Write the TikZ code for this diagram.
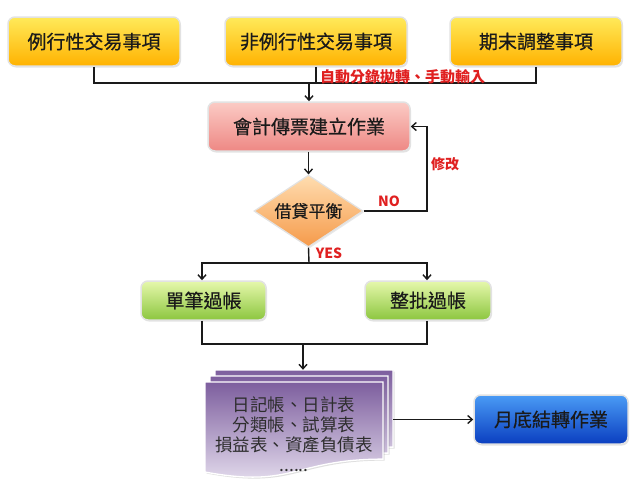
\documentclass[tikz,border=0pt]{standalone}
\usepackage{fontspec}
\setmainfont{Noto Sans CJK TC}
\newfontfamily\boxfont{Noto Sans CJK TC}[FakeBold=0.6]
\usetikzlibrary{shapes.geometric,arrows.meta,shadows,calc}
\definecolor{lnc}{HTML}{1A1A1A}
\definecolor{redl}{HTML}{E02020}
\definecolor{yelT}{HTML}{FFEA5A}
\definecolor{yelB}{HTML}{FFB200}
\definecolor{pinkT}{HTML}{FBCBC5}
\definecolor{pinkB}{HTML}{EE8884}
\definecolor{oraT}{HTML}{FFDDB0}
\definecolor{oraB}{HTML}{F59A4A}
\definecolor{grnT}{HTML}{E6F8AC}
\definecolor{grnB}{HTML}{8CC63F}
\definecolor{bluT}{HTML}{4A9BF5}
\definecolor{bluB}{HTML}{0A3EC0}
\definecolor{purT}{HTML}{7D5E9E}
\definecolor{purB}{HTML}{EAE4F2}
\definecolor{edge}{HTML}{E2E2E2}
\begin{document}
\begin{tikzpicture}[x=1pt,y=-1pt,
  box/.style={rectangle, rounded corners=7pt, draw=edge, line width=1.5pt,
    minimum height=49pt, inner sep=0pt, text=lnc,
    font=\boxfont\fontsize{19}{22}\selectfont,
    drop shadow={opacity=0.22, shadow xshift=1pt, shadow yshift=-1.5pt}},
  yelbox/.style={box, top color=yelT, bottom color=yelB},
  pinkbox/.style={box, top color=pinkT, bottom color=pinkB},
  grnbox/.style={box, minimum height=39pt, top color=grnT, bottom color=grnB},
  blubox/.style={box, top color=bluT, bottom color=bluB},
  decbox/.style={diamond, aspect=1.5, inner sep=0pt, minimum width=109pt,
    minimum height=72pt, draw=edge, line width=1.2pt, text=lnc,
    top color=oraT, bottom color=oraB, font=\boxfont\fontsize{17}{20}\selectfont,
    drop shadow={opacity=0.18, shadow xshift=1pt, shadow yshift=-1.5pt}},
  page/.style={draw=white, line width=1.3pt, top color=purT, bottom color=purB,
    drop shadow={opacity=0.25, shadow xshift=1.5pt, shadow yshift=-1.5pt}},
  conn/.style={draw=lnc, line width=1.4pt},
  arr/.style={conn, -{Straight Barb[length=4.5pt,width=8pt]}},
  lbl/.style={text=redl, font=\bfseries\fontsize{14}{16}\selectfont, inner sep=0pt},
]
\useasboundingbox[fill=white] (0,0) rectangle (640,488);

% top boxes
\node[yelbox, minimum width=172pt] (t1) at (94,41.5) {例行性交易事項};
\node[yelbox, minimum width=182pt] (t2) at (316,41.5) {非例行性交易事項};
\node[yelbox, minimum width=172pt] (t3) at (536,41.5) {期末調整事項};

\node[pinkbox, minimum width=202pt] (p) at (309,126.5) {會計傳票建立作業};
\node[decbox] (d) at (308.5,211) {借貸平衡};

\node[grnbox, minimum width=125pt] (g1) at (203.5,300.5) {單筆過帳};
\node[grnbox, minimum width=126pt] (g2) at (428,300.5) {整批過帳};

\node[blubox, minimum width=154pt] (b) at (551,419.5) {月底結轉作業};

% document stack
\path[page] (215,370) -- (393,370) -- (393,447.1) .. controls (304,447.1) and (304,476.7) .. (215,460) -- cycle;
\path[page] (210,376) -- (388,376) -- (388,453.1) .. controls (299,453.1) and (299,482.7) .. (210,466) -- cycle;
\path[page] (205,382) -- (383,382) -- (383,459.1) .. controls (294,459.1) and (294,488.7) .. (205,472) -- cycle;
\node[minimum width=188pt, minimum height=102pt, inner sep=0pt] (doc) at (299,421) {};
\node[align=center, text=black!82, font=\fontsize{17.5}{20}\selectfont, inner sep=0pt] (doctext) at (294,434)
  {日記帳、日計表\\分類帳、試算表\\損益表、資產負債表\\......};

% connectors
\coordinate (j1) at (309,83);
\coordinate (j2) at (309,263);
\coordinate (j3) at (303,344);
\coordinate (k) at (427,126.5);

\draw[conn] (t1.south) |- (j1);
\draw[conn] (t3.south) |- (j1);
\draw[conn] (t2.south) -- (t2.south |- j1);
\draw[arr] (j1) -- (j1 |- p.north);
\node[lbl, font=\bfseries\fontsize{15}{17}\selectfont, anchor=west] (auto) at (320,76.5) {自動分錄拋轉、手動輸入};

\draw[arr] (p.south -| d.north) -- (d.north);
\draw[arr] (d.east) -| (k) -- (p.east);
\node[lbl] (no) at (389,201) {NO};
\node[lbl] (fix) at (445,164) {修改};

\draw[conn] (d.south) -- (j2);
\node[lbl] (yes) at (329,253) {YES};
\draw[arr] (j2) -| ($(g1.north)+(-1.5,0)$);
\draw[arr] (j2) -| ($(g2.north)+(-1,0)$);

\draw[conn] ($(g1.south)+(-1.5,0)$) |- (j3);
\draw[conn] ($(g2.south)+(-1,0)$) |- (j3);
\draw[arr] (j3) -- (j3 |- doc.north);

\draw[arr] (b.west -| doc.east) -- (b.west);
\end{tikzpicture}
\end{document}
